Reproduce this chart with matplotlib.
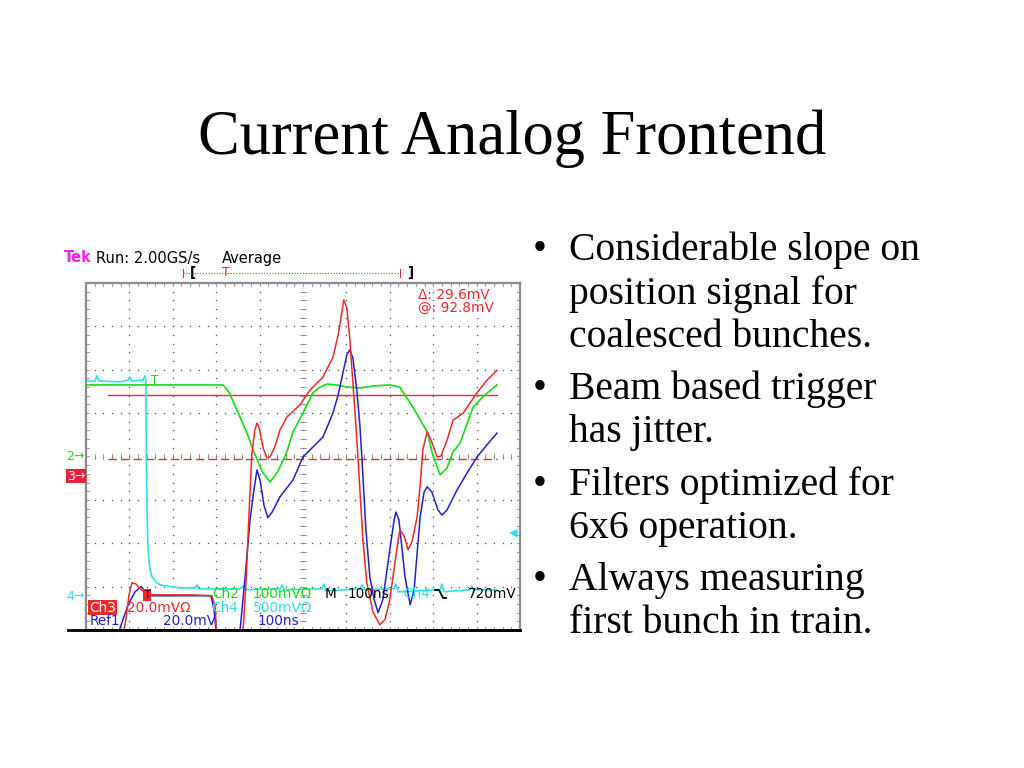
import numpy as np
import matplotlib
matplotlib.use('Agg')
import matplotlib.pyplot as plt

# scope traces, x in divisions (100 ns/div), y in divisions from screen centre
green_x = [0, 1.47, 3.16, 3.29, 3.48, 3.71, 3.85, 4.06, 4.24, 4.42, 4.63, 4.77, 5.00, 5.23,
           5.39, 5.55, 5.78, 6.01, 6.31, 6.66, 7.00, 7.23, 7.53, 7.86, 7.99, 8.16, 8.32,
           8.46, 8.62, 8.92, 9.19, 9.47]
green_y = [1.65, 1.65, 1.65, 1.49, 1.07, 0.54, 0.15, -0.35, -0.59, -0.35, 0.11, 0.57, 1.00, 1.47,
           1.60, 1.67, 1.65, 1.60, 1.58, 1.63, 1.65, 1.60, 1.14, 0.57, 0.04, -0.42, -0.26,
           0.11, 0.31, 1.14, 1.42, 1.65]

red_x = [0.83, 0.92, 0.99, 1.06, 1.15, 1.27, 1.43, 1.71, 2.40, 2.90, 2.97, 3.02, 3.27, 3.55,
         3.62, 3.69, 3.76, 3.82, 3.89, 3.94, 3.99, 4.08, 4.17, 4.24, 4.35, 4.47, 4.63, 4.93,
         5.16, 5.46, 5.69, 5.81, 5.94, 6.01, 6.08, 6.20, 6.27, 6.38, 6.47, 6.61, 6.77, 6.89,
         7.00, 7.12, 7.23, 7.33, 7.42, 7.51, 7.63, 7.70, 7.76, 7.86, 7.95, 8.09, 8.18, 8.32,
         8.46, 8.69, 9.01, 9.24, 9.47]
red_y = [-4.23, -3.76, -3.19, -2.91, -2.94, -3.07, -3.19, -3.19, -3.19, -3.21, -3.42, -4.23, -4.78, -4.23,
         -4.00, -2.84, -1.23, 0.04, 0.61, 0.77, 0.66, 0.20, -0.03, -0.01, 0.22, 0.61, 0.91, 1.19,
         1.53, 1.83, 2.29, 2.80, 3.61, 3.43, 2.69, 1.00, -0.08, -1.92, -2.91, -3.58, -3.88, -3.76,
         -3.30, -2.43, -1.69, -1.83, -2.15, -1.97, -1.39, -0.65, 0.15, 0.57, 0.38, -0.01, 0.01, 0.38,
         0.84, 1.00, 1.47, 1.76, 1.99]

blue_x = [0.69, 0.81, 0.97, 1.13, 1.27, 1.38, 1.47, 1.94, 2.88, 2.95, 3.02, 3.27, 3.48, 3.55,
          3.66, 3.78, 3.87, 3.94, 4.01, 4.10, 4.19, 4.29, 4.47, 4.77, 5.00, 5.28, 5.46, 5.69,
          5.81, 5.92, 6.01, 6.08, 6.15, 6.24, 6.31, 6.36, 6.45, 6.54, 6.64, 6.73, 6.84, 7.00,
          7.10, 7.14, 7.21, 7.35, 7.47, 7.56, 7.70, 7.79, 7.86, 7.97, 8.11, 8.20, 8.32, 8.55,
          8.78, 9.01, 9.24, 9.47]
blue_y = [-4.23, -3.88, -3.42, -3.12, -3.00, -3.12, -3.21, -3.21, -3.21, -3.53, -4.23, -4.69, -4.23, -4.00,
          -2.84, -1.46, -0.77, -0.31, -0.54, -1.12, -1.41, -1.28, -0.93, -0.54, -0.01, 0.27, 0.45, 1.00,
          1.42, 1.93, 2.34, 2.46, 2.27, 1.53, 0.73, -0.08, -1.69, -2.77, -3.30, -3.60, -3.30, -2.15,
          -1.46, -1.28, -1.46, -2.77, -3.42, -3.07, -1.39, -0.82, -0.70, -0.82, -1.23, -1.35, -1.23, -0.77,
          -0.38, -0.01, 0.27, 0.54]

cyan_x = [0, 0.21, 0.25, 0.30, 0.78, 0.97, 1.01, 1.06, 1.31, 1.36, 1.38, 1.39, 1.41, 1.43,
          1.47, 1.52, 1.61, 1.71, 1.94, 2.17, 2.51, 2.56, 2.60, 3.55, 3.64, 3.69, 4.47, 4.52,
          4.56, 5.44, 5.48, 5.53, 6.31, 6.36, 6.41, 7.10, 7.14, 7.19, 8.16, 8.20, 8.25, 8.85,
          8.89, 8.94, 9.47]
cyan_y = [1.74, 1.74, 1.86, 1.74, 1.72, 1.76, 1.83, 1.74, 1.76, 1.86, 1.76, -0.08, -1.46, -2.15,
          -2.57, -2.77, -2.89, -2.96, -3.00, -3.03, -3.03, -2.96, -3.05, -3.05, -2.98, -3.07, -3.05, -2.96,
          -3.07, -3.05, -2.94, -3.10, -3.05, -2.96, -3.07, -3.05, -2.94, -3.12, -3.07, -2.94, -3.12, -3.07,
          -2.98, -3.07, -3.07]

cursor_levels = [1.42, -0.05]
cursor_span = [0.51, 9.47]

title = 'Current Analog Frontend'
bullets = [['Considerable slope on', 'position signal for', 'coalesced bunches.'],
           ['Beam based trigger', 'has jitter.'],
           ['Filters optimized for', '6x6 operation.'],
           ['Always measuring', 'first bunch in train.']]

GREEN = '#10e010'
RED = '#f02828'
BLUE = '#2020d0'
CYAN = '#30e0e8'
GRID = '#8a8a8a'
SCOPE_FONT = 'DejaVu Sans'

W, H = 1024, 768
fig = plt.figure(figsize=(W / 100, H / 100), dpi=100)
fig.patch.set_facecolor('white')

# screen: 10 x 8 divisions
L, R, T, B = 86, 520, 283, 630
ax = fig.add_axes([L / W, 1 - B / H, (R - L) / W, (B - T) / H])
ax.set_xlim(0, 10)
ax.set_ylim(-4, 4)
ax.set_xticks([])
ax.set_yticks([])
for side in ['top', 'left', 'right']:
    ax.spines[side].set_color('#8a8a8a')
    ax.spines[side].set_linewidth(1.6)
ax.spines['bottom'].set_color('black')
ax.spines['bottom'].set_linewidth(2)

div = (R - L) / 10.0


def to_data(px, py):
    return (px - L) / div, ((T + B) / 2 - py) / div


def fpos(px, py):
    return px / W, 1 - py / H


# dotted graticule
steps_y = np.arange(-4, 4.001, 0.2)
steps_x = np.arange(0, 10.001, 0.2)
for gx in range(1, 10):
    ax.plot(np.full_like(steps_y, gx), steps_y, ls='none', marker='s', ms=0.9, mew=0,
            color='#555555', zorder=1)
for gy in range(-3, 4):
    ax.plot(steps_x, np.full_like(steps_x, gy), ls='none', marker='s', ms=0.9, mew=0,
            color='#555555', zorder=1)
# tick marks on centre lines and border
for sx in steps_x:
    ax.plot([sx, sx], [-0.06, 0.06], color=GRID, lw=0.6, zorder=1)
    ax.plot([sx, sx], [4, 3.92], color=GRID, lw=0.6, zorder=1)
    ax.plot([sx, sx], [-4, -3.92], color=GRID, lw=0.6, zorder=1)
for sy in steps_y:
    ax.plot([4.94, 5.06], [sy, sy], color=GRID, lw=0.6, zorder=1)
    ax.plot([0, 0.08], [sy, sy], color=GRID, lw=0.6, zorder=1)
    ax.plot([10, 9.92], [sy, sy], color=GRID, lw=0.6, zorder=1)

# bottom rule runs past the screen to the left
x0, _ = to_data(68, B)
ax.plot([x0, 10], [-4, -4], color='black', lw=2, clip_on=False, zorder=5)

# cursors
ax.plot(cursor_span, [cursor_levels[0]] * 2, color=RED, lw=1.0, zorder=2)
ax.plot(cursor_span, [cursor_levels[1]] * 2, color=RED, lw=1.0, dashes=(6, 3), zorder=2)

# traces
ax.plot(cyan_x, cyan_y, color=CYAN, lw=1.2, zorder=3)
ax.plot(green_x, green_y, color=GREEN, lw=1.2, zorder=3)
ax.plot(blue_x, blue_y, color=BLUE, lw=1.1, zorder=4)
ax.plot(red_x, red_y, color=RED, lw=1.1, zorder=4)

# trigger window bar above screen
bx0, by = to_data(183, 273)
bx1, _ = to_data(400, 273)
ax.plot([bx0, bx1], [by, by], color=RED, lw=0.8, ls=(0, (1, 1.5)), clip_on=False)
for bx in [bx0, bx1]:
    ax.plot([bx, bx], [by - 0.1, by + 0.1], color=RED, lw=0.8, clip_on=False)

# falling-edge trigger symbol
sym = [to_data(435, 590), to_data(439, 590), to_data(443, 598), to_data(446, 598)]
ax.plot([p[0] for p in sym], [p[1] for p in sym], color='black', lw=1.3, clip_on=False, zorder=6)


def stext(px, py, s, color, size=9.8, **kw):
    fig.text(*fpos(px, py), s, color=color, fontsize=size, family=SCOPE_FONT,
             va='center', ha='left', **kw)


stext(64, 258, 'Tek', '#f020f0', weight='bold', size=10.5)
stext(96, 258, 'Run: 2.00GS/s', 'black', size=10.5)
stext(222, 258, 'Average', 'black', size=10.5)
stext(190, 273, '[', 'black', weight='bold')
stext(222, 273, 'T', RED, size=9)
stext(407, 273, ']', 'black', weight='bold')
stext(418, 295, '\u0394: 29.6mV', RED)
stext(418, 308, '@: 92.8mV', RED)

stext(151, 380, 'T', GREEN, size=8.5)
stext(144, 595, 'T', '#600000', size=7,
      bbox=dict(boxstyle='square,pad=0.1', fc=RED, ec='none'))

stext(212, 594, 'Ch2', GREEN)
stext(253, 594, '100mV\u03a9', GREEN)
stext(325, 594, 'M', 'black')
stext(348, 594, '100ns', 'black')
stext(403, 594, 'Ch4', CYAN)
stext(468, 594, '720mV', 'black')

stext(89, 607.5, 'Ch3', 'white', bbox=dict(boxstyle='square,pad=0.06', fc=RED, ec='none'))
stext(127, 607.5, '20.0mV\u03a9', RED)
stext(211, 607.5, 'Ch4', CYAN)
stext(253, 607.5, '500mV\u03a9', CYAN)

stext(90, 621, 'Ref1', BLUE)
stext(163, 621, '20.0mV', BLUE)
stext(258, 621, '100ns', BLUE)

# channel ground markers
stext(66, 457, '2\u2192', GREEN, size=9)
stext(67, 476, '3\u2192', 'white', size=9,
      bbox=dict(boxstyle='square,pad=0.06', fc='#e8203c', ec='none'))
stext(66, 596, '4\u2192', CYAN, size=9)
stext(509, 533, '\u25c0', CYAN, size=8)

# slide text
fig.text(*fpos(512, 154), title, family='Liberation Serif', fontsize=45,
         ha='center', va='baseline', color='black')

baselines = [[260, 304, 347], [399, 442], [495, 538], [590, 633]]
for lines, ys in zip(bullets, baselines):
    fig.text(*fpos(533, ys[0]), '\u2022', family='Liberation Serif', fontsize=28.5,
             ha='left', va='baseline')
    for s, y in zip(lines, ys):
        fig.text(*fpos(569, y), s, family='Liberation Serif', fontsize=28.5,
                 ha='left', va='baseline')

fig.savefig('out.png', dpi=100, facecolor='white')
